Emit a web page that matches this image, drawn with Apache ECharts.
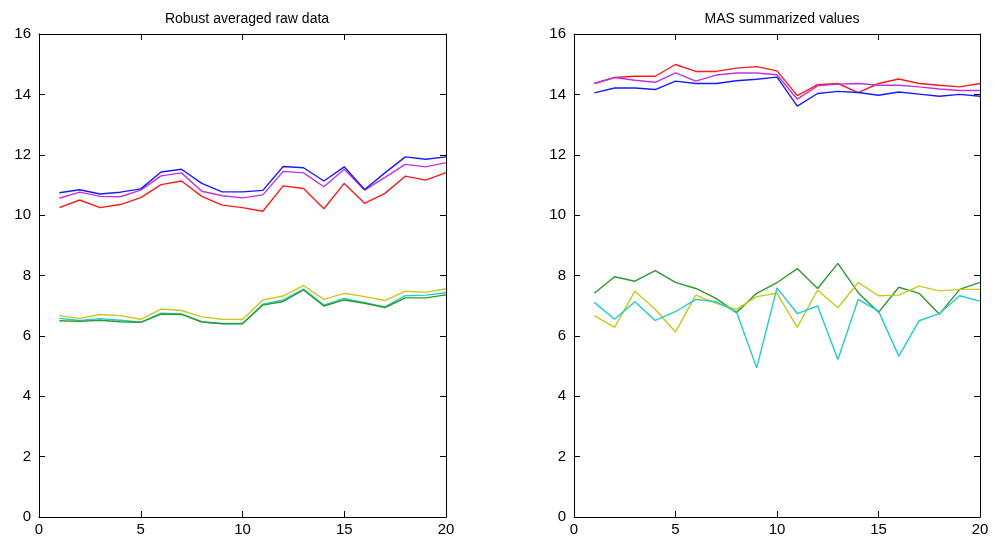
<!DOCTYPE html>
<html><head><meta charset="utf-8">
<script src="https://cdn.jsdelivr.net/npm/echarts@6/dist/echarts.min.js"></script>
<style>html,body{margin:0;padding:0;background:#fff}#c{width:994px;height:543px}</style>
</head><body><div id="c"></div>
<script>
const xs = [1,2,3,4,5,6,7,8,9,10,11,12,13,14,15,16,17,18,19,20];
const titles = ["Robust averaged raw data", "MAS summarized values"];
// Left panel
const rawBlue    = [10.74,10.84,10.70,10.76,10.87,11.43,11.52,11.05,10.77,10.77,10.82,11.61,11.57,11.13,11.60,10.85,11.40,11.93,11.85,11.93];
const rawMagenta = [10.56,10.76,10.62,10.61,10.83,11.30,11.40,10.79,10.64,10.57,10.67,11.45,11.40,10.94,11.52,10.83,11.25,11.68,11.60,11.74];
const rawRed     = [10.25,10.50,10.25,10.35,10.58,11.01,11.13,10.62,10.33,10.25,10.13,10.97,10.88,10.21,11.05,10.39,10.72,11.29,11.16,11.41];
const rawYellow  = [6.67,6.58,6.71,6.67,6.55,6.89,6.84,6.63,6.55,6.54,7.19,7.32,7.67,7.21,7.41,7.30,7.17,7.48,7.44,7.56];
const rawCyan    = [6.58,6.51,6.57,6.52,6.45,6.75,6.73,6.47,6.41,6.41,7.05,7.19,7.55,7.02,7.24,7.10,6.96,7.33,7.35,7.43];
const rawGreen   = [6.50,6.48,6.52,6.47,6.45,6.72,6.71,6.46,6.40,6.40,7.02,7.14,7.52,6.99,7.19,7.08,6.94,7.26,7.26,7.36];
// Right panel
const masRed     = [14.36,14.56,14.60,14.60,14.99,14.76,14.76,14.87,14.92,14.78,13.96,14.32,14.36,14.06,14.36,14.51,14.36,14.30,14.25,14.36];
const masMagenta = [14.36,14.56,14.47,14.40,14.71,14.44,14.64,14.71,14.71,14.65,13.84,14.28,14.34,14.36,14.30,14.30,14.25,14.18,14.13,14.13];
const masBlue    = [14.05,14.21,14.21,14.16,14.44,14.36,14.36,14.45,14.50,14.57,13.61,14.03,14.10,14.06,13.97,14.08,14.01,13.94,14.00,13.94];
const masGreen   = [7.41,7.96,7.81,8.16,7.77,7.57,7.24,6.77,7.41,7.76,8.23,7.57,8.40,7.43,6.78,7.61,7.41,6.72,7.54,7.77];
const masYellow  = [6.67,6.28,7.48,6.88,6.13,7.35,7.08,6.88,7.30,7.41,6.28,7.52,6.93,7.77,7.33,7.35,7.65,7.49,7.54,7.54];
const masCyan    = [7.11,6.55,7.13,6.51,6.80,7.21,7.13,6.80,4.94,7.59,6.74,6.99,5.22,7.21,6.82,5.33,6.50,6.74,7.33,7.15];

const C = {blue:'#1a1aff', magenta:'#c033e0', red:'#ff1a1a', yellow:'#c8c81e', cyan:'#22cccc', green:'#2e992e'};
const font = 'Liberation Sans, Arial, sans-serif';

function pts(arr){ return xs.map((x,i)=>[x,arr[i]]); }
function line(arr,color,idx){
  return {type:'line', xAxisIndex:idx*2, yAxisIndex:idx*2, data:pts(arr), symbol:'none',
          lineStyle:{color:color,width:1.4}, itemStyle:{color:color}, animation:false, silent:true};
}
const axLine = {show:true, onZero:false, lineStyle:{color:'#000',width:1}};
const tick = {show:true, inside:true, length:6, lineStyle:{color:'#000'}};
const grids = [
  {left:39, right:548, top:34, bottom:26},
  {left:574, right:14, top:34, bottom:26}
];
const xAxis = [], yAxis = [];
[0,1].forEach(g=>{
  xAxis.push({type:'value', gridIndex:g, min:0, max:20, interval:5, position:'bottom',
    axisLine:axLine, axisTick:tick,
    axisLabel:{color:'#000', fontSize:15, fontFamily:font, margin:5}, splitLine:{show:false}});
  xAxis.push({type:'value', gridIndex:g, min:0, max:20, interval:5, position:'top',
    axisLine:axLine, axisTick:tick,
    axisLabel:{show:false}, splitLine:{show:false}});
  yAxis.push({type:'value', gridIndex:g, min:0, max:16, interval:2, position:'left',
    axisLine:axLine, axisTick:tick,
    axisLabel:{color:'#000', fontSize:15, fontFamily:font, margin:8}, splitLine:{show:false}});
  yAxis.push({type:'value', gridIndex:g, min:0, max:16, interval:2, position:'right',
    axisLine:axLine, axisTick:tick,
    axisLabel:{show:false}, splitLine:{show:false}});
});
const chart = echarts.init(document.getElementById('c'), null, {renderer:'canvas'});
chart.setOption({
  backgroundColor:'#fff',
  animation:false,
  title:[
    {text:titles[0], left:242, top:7, textAlign:'center', textStyle:{fontSize:14, fontWeight:'normal', color:'#000', fontFamily:font}},
    {text:titles[1], left:777, top:7, textAlign:'center', textStyle:{fontSize:14, fontWeight:'normal', color:'#000', fontFamily:font}}
  ],
  grid:grids, xAxis:xAxis, yAxis:yAxis,
  series:[
    line(rawRed,C.red,0), line(rawMagenta,C.magenta,0), line(rawBlue,C.blue,0),
    line(rawYellow,C.yellow,0), line(rawCyan,C.cyan,0), line(rawGreen,C.green,0),
    line(masRed,C.red,1), line(masMagenta,C.magenta,1), line(masBlue,C.blue,1),
    line(masGreen,C.green,1), line(masYellow,C.yellow,1), line(masCyan,C.cyan,1)
  ]
});
</script></body></html>
